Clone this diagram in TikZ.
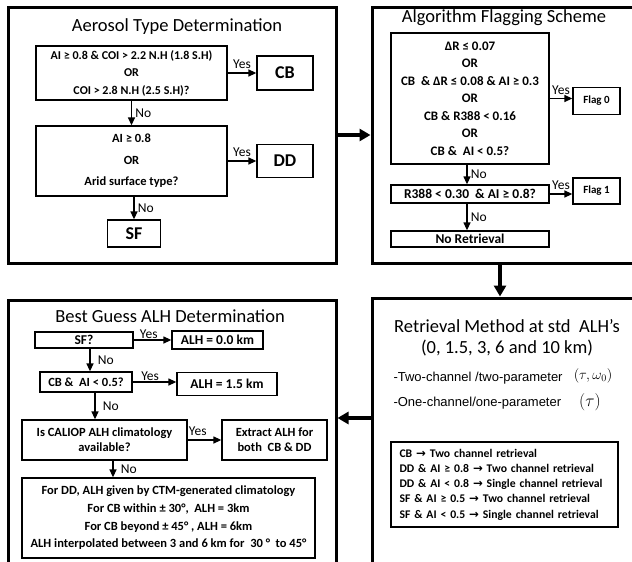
\documentclass[tikz,border=0pt]{standalone}
\usepackage{fontspec}
\setmainfont{Carlito}
\newfontfamily\arialfont{Liberation Sans}
\newfontfamily\symfont{DejaVu Sans}
\usetikzlibrary{arrows.meta}
\newcommand{\rarr}{{\symfont\bfseries →}}
\tikzset{%
    box/.style={draw,line width=1.3pt,inner sep=0pt,align=center,font=\bfseries\fontsize{12.5}{17.5}\selectfont}
}
\begin{document}
\begin{tikzpicture}[x=1pt,y=-1pt,
        panel/.style={draw,line width=3pt,inner sep=0pt},
        bigbox/.style={draw,line width=1.3pt,inner sep=0pt,font=\bfseries\fontsize{18}{20}\selectfont},
        ttl/.style={font=\fontsize{18.5}{21}\selectfont,align=center},
        lbl/.style={font=\fontsize{13.5}{15}\selectfont},
        edge/.style={line width=1.3pt,-{Triangle[length=8pt,width=7pt]}},
        bigedge/.style={line width=3.8pt,-{Triangle[length=11pt,width=12pt]}}
        ]
        \clip (0,0) rectangle (632,562);
        \fill[white] (0,0) rectangle (632,562);

        \node[panel,minimum width=328pt,minimum height=256pt] (atd) at (172,135) {};
        \node[panel,minimum width=273pt,minimum height=256pt] (afs) at (508.5,135) {};
        \node[panel,minimum width=328pt,minimum height=275pt] (bga) at (172,437.5) {};
        \node[panel,minimum width=273pt,minimum height=277pt] (rmt) at (508.5,436.5) {};

        \node[ttl] (atdt) at (177,27) {Aerosol Type Determination};
        \node[ttl] (afst) at (504,18) {Algorithm Flagging Scheme};
        \node[ttl] (bgat) at (170,316) {Best Guess ALH Determination};
        \node[ttl] (rmtt) at (507,337.5) {Retrieval Method at std\ \ ALH’s\\(0, 1.5, 3, 6 and 10 km)};

        \node[box,minimum width=191pt,minimum height=54pt,font=\bfseries\fontsize{12}{17.5}\selectfont] (q1) at (131.5,73) {AI ≥ 0.8 \& COI > 2.2 N.H (1.8 S.H)\\OR\\COI > 2.8 N.H (2.5 S.H)?};
        \node[bigbox,minimum width=56pt,minimum height=34pt] (cb) at (285,73) {CB};
        \node[box,minimum width=191pt,minimum height=70pt,font=\bfseries\fontsize{12.5}{21.5}\selectfont] (q2) at (131.5,161) {AI ≥ 0.8\\OR\\Arid surface type?};
        \node[bigbox,minimum width=56pt,minimum height=33pt] (dd) at (285,161) {DD};
        \node[bigbox,minimum width=53pt,minimum height=27pt] (sf) at (134,233.5) {SF};

        \draw[edge] (q1) -- node[lbl,above]{Yes} (cb);
        \draw[edge] (q1) -- node[lbl,right]{No} (q2);
        \draw[edge] (q2) -- node[lbl,above]{Yes} (dd);
        \draw[edge] (q2.south -| sf) -- node[lbl,right]{No} (sf);

        \node[box,minimum width=158pt,minimum height=131pt,font=\bfseries\fontsize{13}{17.5}\selectfont] (fa) at (470,98.5) {ΔR ≤ 0.07\\OR\\CB\ \ \& ΔR ≤ 0.08 \& AI ≥ 0.3\\OR\\CB \& R388 < 0.16\\OR\\CB \&\ \ AI < 0.5?};
        \node[box,minimum width=47pt,minimum height=27pt,font=\bfseries\fontsize{11}{12}\selectfont] (f0) at (596.5,101) {Flag 0};
        \node[box,minimum width=158pt,minimum height=18pt,font=\bfseries\fontsize{13.5}{15}\selectfont] (fb) at (470,194) {R388 < 0.30\ \ \& AI ≥ 0.8?};
        \node[box,minimum width=47pt,minimum height=26pt,font=\bfseries\fontsize{11}{12}\selectfont] (f1) at (596.5,191) {Flag 1};
        \node[box,minimum width=158pt,minimum height=16pt,font=\bfseries\fontsize{13.5}{15}\selectfont] (nr) at (470,239) {No Retrieval};

        \draw[edge] (fa.east) -- node[lbl,above]{Yes} (fa.east -| f0.west);
        \draw[edge] (fb.east) -- node[lbl,above]{Yes} (fb.east -| f1.west);
        \draw[edge] ([xshift=-3pt]fa.south) -- node[lbl,right]{No} ([xshift=-3pt]fb.north);
        \draw[edge] ([xshift=-3pt]fb.south) -- node[lbl,right]{No} ([xshift=-3pt]nr.north);

        \node[box,minimum width=98pt,minimum height=16pt,font=\bfseries\fontsize{13.5}{15}\selectfont] (s1) at (84,340) {SF?};
        \node[box,minimum width=91pt,minimum height=18pt,font=\bfseries\fontsize{13.5}{15}\selectfont] (a0) at (217.5,340) {ALH = 0.0 km};
        \node[box,minimum width=92pt,minimum height=20pt] (c2) at (86,382) {CB \&\ \ AI < 0.5?};
        \node[box,minimum width=100pt,minimum height=23pt,font=\bfseries\fontsize{13.5}{15}\selectfont] (a15) at (227,384) {ALH = 1.5 km};
        \node[box,minimum width=165pt,minimum height=40pt,font=\bfseries\fontsize{12.5}{15}\selectfont] (c3) at (104.5,440) {Is CALIOP ALH climatology\\available?};
        \node[box,minimum width=105pt,minimum height=40pt,font=\bfseries\fontsize{12.5}{15}\selectfont] (ex) at (274.5,440) {Extract ALH for\\both\ \ CB \& DD};
        \node[box,minimum width=293pt,minimum height=80pt,font=\bfseries\fontsize{12.5}{17.7}\selectfont] (fin) at (168.5,518) {For DD, ALH given by CTM-generated climatology\\For CB within ± 30°,\ \ ALH = 3km\\For CB beyond ± 45° , ALH = 6km\\ALH interpolated between 3 and 6 km for\ \ 30 °\ \ to 45°};

        \draw[edge] (s1.east) -- node[lbl,pos=0.4,above,inner sep=0.5pt]{Yes} (s1.east -| a0.west);
        \draw[edge] (c2.east) -- node[lbl,pos=0.4,above,inner sep=0.5pt]{Yes} (c2.east -| a15.west);
        \draw[edge] (c3) -- node[lbl,pos=0.3,above]{Yes} (ex);
        \draw[edge] ([xshift=6pt]s1.south) -- node[lbl,right,xshift=4pt]{No} ([xshift=6pt]s1.south |- c2.north);
        \draw[edge] ([xshift=9pt]c2.south) -- node[lbl,right,xshift=4pt]{No} ([xshift=9pt]c2.south |- c3.north);
        \draw[edge] ([xshift=8.5pt]c3.south) -- node[lbl,right,xshift=4pt]{No} ([xshift=8.5pt]c3.south |- fin.north);

        \node[anchor=west,font=\arialfont\fontsize{13}{15}\selectfont] (p2) at (390,378) {-Two-channel /two-parameter};
        \node[anchor=west,font=\arialfont\fontsize{13}{15}\selectfont] (p1) at (390,403) {-One-channel/one-parameter};
        \node[font=\fontsize{14}{16}\selectfont] (m2) at (593,376) {$(\tau,\omega_0)$};
        \node[font=\fontsize{18}{20}\selectfont] (m1) at (590,402) {$(\tau)$};
        \node[box,align=left,text width=210pt,minimum width=227pt,minimum height=85pt,font=\bfseries\fontsize{11.7}{15.3}\selectfont] (rb) at (504.5,484.5) {CB \rarr{} Two channel retrieval\\DD \& AI ≥ 0.8 \rarr{} Two channel retrieval\\DD \& AI < 0.8 \rarr{} Single channel retrieval\\SF \& AI ≥ 0.5 \rarr{} Two channel retrieval\\SF \& AI < 0.5 \rarr{} Single channel retrieval};

        \draw[bigedge] (atd.east) -- (atd.east -| afs.west);
        \draw[bigedge] (afs.south -| 500,0) -- (rmt.north -| 500,0);
        \draw[bigedge] (rmt.west |- 0,418) -- (bga.east |- 0,418);
    \end{tikzpicture}
\end{document}
